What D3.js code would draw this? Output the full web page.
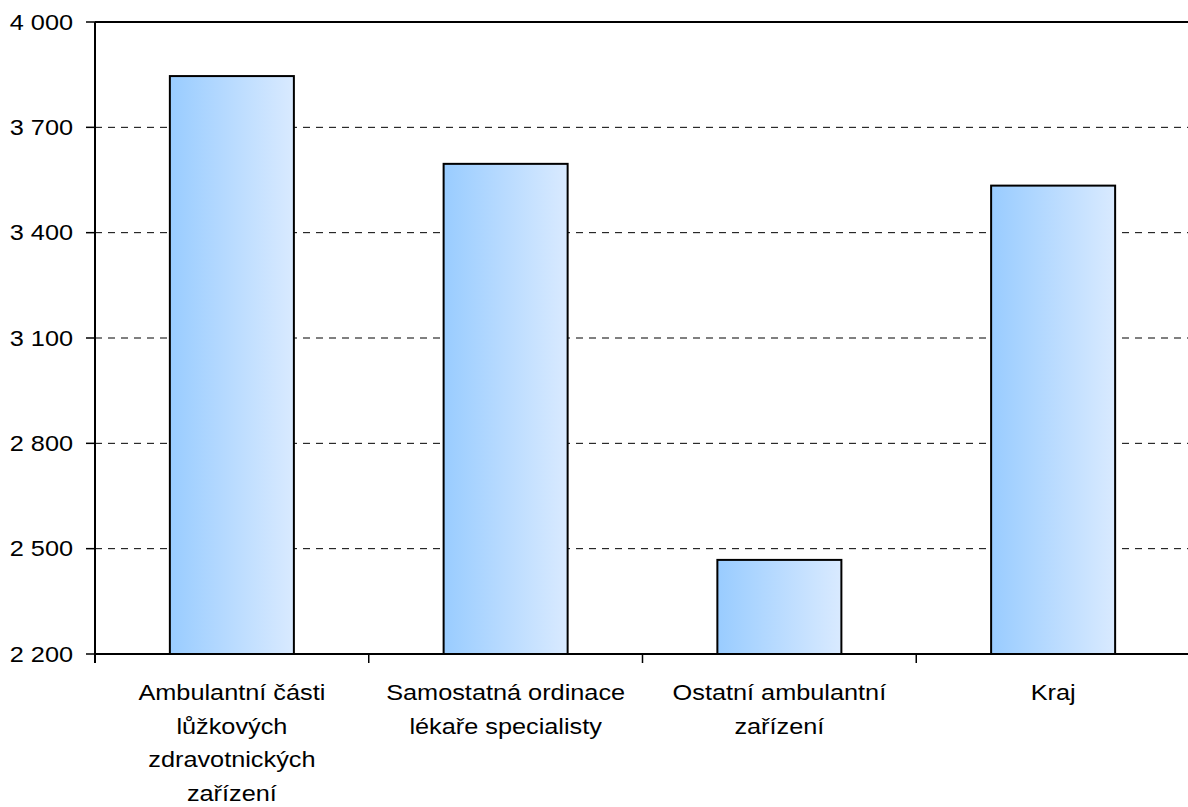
<!DOCTYPE html>
<html>
<head>
  <meta charset="utf-8" />
  <title>Chart</title>
  <style>
    body { margin: 0; background: #fff; }
    text { font-family: "Liberation Sans", Arial, sans-serif; fill: #000; }
  </style>
</head>
<body>
  <svg id="svg"></svg>
  <script src="https://cdn.jsdelivr.net/npm/d3@7"></script>
  <script>
    // data
    const categories = ['amb', 'samo', 'ost', 'kraj']
    const labelLines = [
      ['Ambulantní části', 'lůžkových', 'zdravotnických', 'zařízení'],
      ['Samostatná ordinace', 'lékaře specialisty'],
      ['Ostatní ambulantní', 'zařízení'],
      ['Kraj']
    ]
    const values = [3846, 3596, 2468, 3534]
    const yTicks = [2200, 2500, 2800, 3100, 3400, 3700, 4000]

    const width = 1188
    const height = 807
    const plot = { left: 95, right: 1190, top: 22, bottom: 654 }
    const sx = 1.15 // text looks stretched sideways

    const svg = d3.select('#svg').attr('width', width).attr('height', height)

    const defs = svg.append('defs')
    const grad = defs.append('linearGradient').attr('id', 'barfill')
      .attr('x1', 0).attr('x2', 1).attr('y1', 0).attr('y2', 0)
    grad.append('stop').attr('offset', '0%').attr('stop-color', '#99ccff')
    grad.append('stop').attr('offset', '100%').attr('stop-color', '#d9eaff')

    const x = d3.scaleBand().domain(categories).range([plot.left, plot.right])
      .paddingInner(0.547).paddingOuter(0.2735)
    const y = d3.scaleLinear().domain([2200, 4000]).range([plot.bottom, plot.top])

    // gridlines (top one solid)
    svg.append('g').selectAll('line')
      .data(yTicks.filter(d => d > 2200))
      .join('line')
      .attr('x1', plot.left).attr('x2', plot.right)
      .attr('y1', d => y(d)).attr('y2', d => y(d))
      .attr('stroke', '#000')
      .attr('stroke-width', d => d === 4000 ? 2 : 1)
      .attr('stroke-dasharray', d => d === 4000 ? null : '7,6')

    // bars
    svg.append('g').selectAll('rect')
      .data(values)
      .join('rect')
      .attr('x', (d, i) => x(categories[i]))
      .attr('width', x.bandwidth())
      .attr('y', d => y(d))
      .attr('height', d => y(2200) - y(d))
      .attr('fill', 'url(#barfill)')
      .attr('stroke', '#000')
      .attr('stroke-width', 2)

    // y axis
    const yAxis = svg.append('g')
    yAxis.append('line')
      .attr('x1', plot.left).attr('x2', plot.left).attr('y1', plot.top).attr('y2', plot.bottom + 9)
      .attr('stroke', '#000').attr('stroke-width', 2)
    yAxis.selectAll('line.tick')
      .data(yTicks)
      .join('line').attr('class', 'tick')
      .attr('x1', plot.left - 9).attr('x2', plot.left)
      .attr('y1', d => y(d)).attr('y2', d => y(d))
      .attr('stroke', '#000').attr('stroke-width', 1.5)
    yAxis.selectAll('text')
      .data(yTicks)
      .join('text')
      .attr('transform', d => `translate(${plot.left - 22},${y(d) + 7.5}) scale(${sx},1)`)
      .attr('text-anchor', 'end')
      .style('font-size', '22px')
      .text(d => d3.format(',')(d).replace(',', ' '))

    // x axis
    const xAxis = svg.append('g')
    xAxis.append('line')
      .attr('x1', plot.left).attr('x2', plot.right).attr('y1', plot.bottom).attr('y2', plot.bottom)
      .attr('stroke', '#000').attr('stroke-width', 2)
    const step = x.step()
    xAxis.selectAll('line.tick')
      .data(categories.slice(1))
      .join('line').attr('class', 'tick')
      .attr('x1', d => x(d) - step * x.paddingInner() / 2)
      .attr('x2', d => x(d) - step * x.paddingInner() / 2)
      .attr('y1', plot.bottom).attr('y2', plot.bottom + 9)
      .attr('stroke', '#000').attr('stroke-width', 1.5)

    const labels = xAxis.selectAll('g.label')
      .data(categories)
      .join('g').attr('class', 'label')
      .attr('transform', d => `translate(${x(d) + x.bandwidth() / 2},0)`)
    labels.selectAll('text')
      .data((d, i) => labelLines[i])
      .join('text')
      .attr('transform', (d, j) => `translate(0,${700 + j * 33.5}) scale(${sx},1)`)
      .attr('text-anchor', 'middle')
      .style('font-size', '22px')
      .text(d => d)
  </script>
</body>
</html>
